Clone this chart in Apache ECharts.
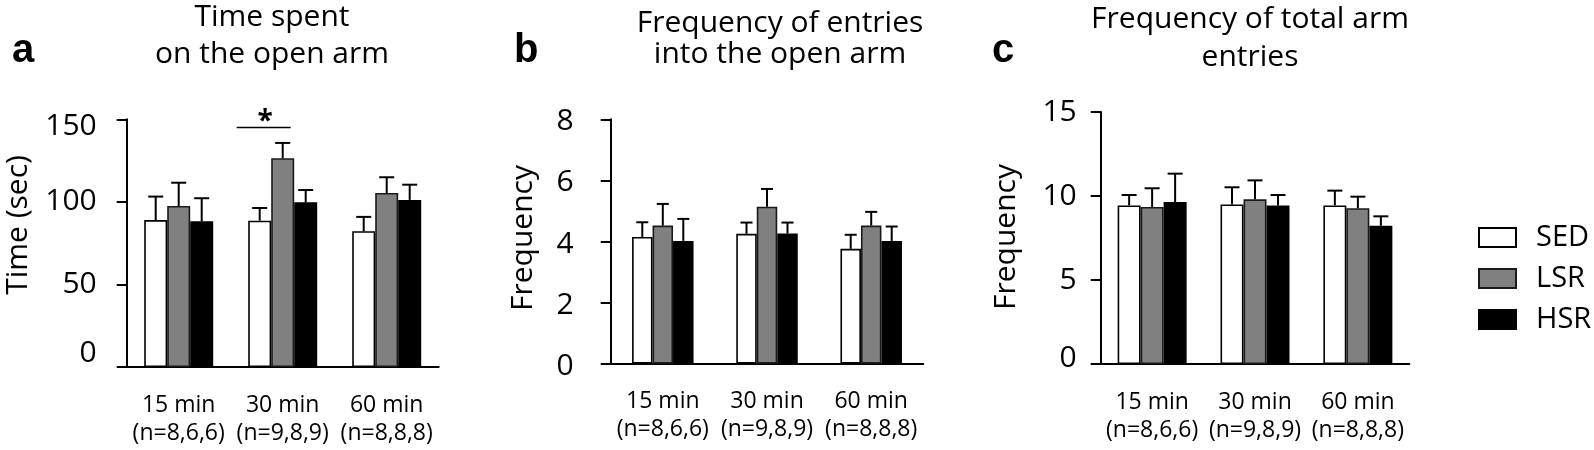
<!DOCTYPE html>
<html>
<head>
<meta charset="utf-8">
<script src="https://cdn.jsdelivr.net/npm/echarts@6/dist/echarts.min.js"></script>
<style>
html,body{margin:0;padding:0;background:#fff;}
#chart{width:1594px;height:450px;}
</style>
</head>
<body>
<div id="chart"></div>
<script>
// ---------- data ----------
const categories = ['15 min', '30 min', '60 min'];
const nLabels = ['(n=8,6,6)', '(n=9,8,9)', '(n=8,8,8)'];
const groups = ['SED', 'LSR', 'HSR'];

// a: Time spent on the open arm (sec)
const timeSED = [89.0, 88.6, 82.2];
const timeSEDsem = [14.2, 7.7, 8.7];
const timeLSR = [97.5, 126.4, 105.4];
const timeLSRsem = [14.1, 9.3, 9.5];
const timeHSR = [88.2, 99.7, 101.2];
const timeHSRsem = [14.0, 7.5, 9.2];
const sigA = [[1, 145]]; // * between SED and LSR at 30 min

// b: Frequency of entries into the open arm
const openSED = [4.15, 4.25, 3.76];
const openSEDsem = [0.48, 0.37, 0.46];
const openLSR = [4.52, 5.14, 4.52];
const openLSRsem = [0.71, 0.58, 0.45];
const openHSR = [4.02, 4.26, 4.02];
const openHSRsem = [0.72, 0.36, 0.47];

// c: Frequency of total arm entries
const totalSED = [9.44, 9.50, 9.44];
const totalSEDsem = [0.62, 1.02, 0.88];
const totalLSR = [9.35, 9.80, 9.27];
const totalLSRsem = [1.11, 1.13, 0.69];
const totalHSR = [9.64, 9.44, 8.23];
const totalHSRsem = [1.69, 0.62, 0.56];

const titles = [
  ['Time spent', 'on the open arm'],
  ['Frequency of entries', 'into the open arm'],
  ['Frequency of total arm', 'entries']
];
const panelLetters = ['a', 'b', 'c'];
const yNames = ['Time (sec)', 'Frequency', 'Frequency'];

// ---------- styling ----------
const FONT = '"Open Sans", "Noto Sans", sans-serif';
const fills = ['#ffffff', '#808080', '#000000'];
const borders = ['#000000', '#1a1a1a', '#000000'];

const grids = [
  {left: 126.7, top: 119.3, width: 312, height: 247.7},
  {left: 610.7, top: 119.3, width: 312.6, height: 244.4},
  {left: 1100.7, top: 112, width: 308.6, height: 252}
];
const barW = [23, 20.5, 23];
const capHalf = [7.5, 6, 7.5];
const yMax = [150, 8, 15];
const yInt = [50, 2, 5];
const yLabelMargin = [30, 37, 24];

const panelData = [
  [[timeSED, timeSEDsem], [timeLSR, timeLSRsem], [timeHSR, timeHSRsem]],
  [[openSED, openSEDsem], [openLSR, openLSRsem], [openHSR, openHSRsem]],
  [[totalSED, totalSEDsem], [totalLSR, totalLSRsem], [totalHSR, totalHSRsem]]
];

function yFormatter(p) {
  return function (v) {
    if (p === 0 && v === 0) return '{lo|0}';
    if (p === 0 && v === 150) return '{hi|150}';
    if (p === 2 && v === 0) return '{lo2|0}';
    if (p === 1) return '{dn|' + v + '}';
    return '{n|' + v + '}';
  };
}
const richBase = {fontSize: 30, fontFamily: FONT, color: '#000'};
const yRich = {
  n: Object.assign({}, richBase),
  lo: Object.assign({padding: [0, 0, 28, 0]}, richBase),
  hi: Object.assign({padding: [15, 0, 0, 0]}, richBase),
  lo2: Object.assign({padding: [0, 0, 11, 0]}, richBase),
  dn: Object.assign({padding: [5, 0, 0, 0]}, richBase)
};

const xAxes = [], yAxes = [], series = [];
for (let p = 0; p < 3; p++) {
  xAxes.push({
    type: 'category', gridIndex: p,
    data: categories.map((c, i) => c + '\n' + nLabels[i]),
    axisLine: {lineStyle: {color: '#000', width: 2}},
    axisTick: {length: 8, lineStyle: {color: '#000', width: 2}},
    axisLabel: {color: '#000', fontSize: 23, fontFamily: FONT, lineHeight: 28, margin: 24, interval: 0}
  });
  yAxes.push({
    type: 'value', gridIndex: p, min: 0, max: yMax[p], interval: yInt[p],
    axisLine: {show: true, lineStyle: {color: '#000', width: 2}},
    axisTick: {show: true, length: 10, lineStyle: {color: '#000', width: 2}},
    splitLine: {show: false},
    axisLabel: {color: '#000', fontSize: 30, fontFamily: FONT, margin: yLabelMargin[p],
      formatter: yFormatter(p), rich: yRich}
  });
  for (let k = 0; k < 3; k++) {
    const [mean, sem] = panelData[p][k];
    series.push({
      type: 'bar', name: groups[k], xAxisIndex: p, yAxisIndex: p,
      data: mean, barWidth: barW[p], barGap: '0%',
      itemStyle: {color: fills[k], borderColor: borders[k], borderWidth: 1.6},
      emphasis: {disabled: true}, z: 2
    });
  }
  for (let k = 0; k < 3; k++) {
    const [mean, sem] = panelData[p][k];
    const bw = barW[p], ch = capHalf[p];
    series.push({
      type: 'custom', name: 'err' + p + k, xAxisIndex: p, yAxisIndex: p, z: 3,
      data: mean.map((m, i) => [i, m, sem[i]]),
      encode: {x: 0, y: 1},
      renderItem: function (params, api) {
        const ci = api.value(0), m = api.value(1), s = api.value(2);
        const p0 = api.coord([ci, m]);
        const p1 = api.coord([ci, m + s]);
        const x = p0[0] + (k - 1) * bw;
        return {type: 'group', children: [
          {type: 'line', shape: {x1: x, y1: p0[1], x2: x, y2: p1[1]}, style: {stroke: '#000', lineWidth: 2}},
          {type: 'line', shape: {x1: x - ch, y1: p1[1], x2: x + ch, y2: p1[1]}, style: {stroke: '#000', lineWidth: 2}}
        ]};
      }
    });
  }
}
// significance annotation in panel a
series.push({
  type: 'custom', name: 'sig', xAxisIndex: 0, yAxisIndex: 0, z: 4,
  data: sigA, encode: {x: 0, y: 1},
  renderItem: function (params, api) {
    const c = api.coord([api.value(0), api.value(1)]);
    return {type: 'group', children: [
      {type: 'line', shape: {x1: c[0] - 46, y1: c[1], x2: c[0] + 8, y2: c[1]}, style: {stroke: '#000', lineWidth: 1.5}},
      {type: 'text', x: c[0] - 17.5, y: c[1] - 6, style: {text: '*', font: 'bold 28px ' + FONT, fill: '#000', align: 'center', verticalAlign: 'middle'}}
    ]};
  }
});

// titles, letters, axis names as text
const graphic = [];
const titleX = [272, 780, 1250];
const titleY = [[17, 54.5], [23.5, 54.5], [19.5, 57]];
for (let p = 0; p < 3; p++) {
  for (let l = 0; l < titles[p].length; l++) {
    graphic.push({type: 'text', x: titleX[p], y: titleY[p][l],
      style: {text: titles[p][l], font: '30px ' + FONT, fill: '#000', align: 'center', verticalAlign: 'middle'}});
  }
}
const letterX = [12, 514, 992];
for (let p = 0; p < 3; p++) {
  graphic.push({type: 'text', x: letterX[p], y: 50.6,
    style: {text: panelLetters[p], font: 'bold 40px "Liberation Sans", Arial, sans-serif', fill: '#000', align: 'left', verticalAlign: 'middle'}});
}
const yNameX = [18.5, 523, 1006];
const yNameY = [225, 238, 237];
for (let p = 0; p < 3; p++) {
  graphic.push({type: 'text', x: yNameX[p], y: yNameY[p], rotation: Math.PI / 2,
    style: {text: yNames[p], font: '30px ' + FONT, fill: '#000', align: 'center', verticalAlign: 'middle'}});
}

const chart = echarts.init(document.getElementById('chart'), null, {renderer: 'canvas'});
chart.setOption({
  animation: false,
  backgroundColor: '#fff',
  grid: grids,
  xAxis: xAxes,
  yAxis: yAxes,
  series: series,
  legend: {
    data: groups, orient: 'vertical', left: 1473, top: 218,
    itemWidth: 37, itemHeight: 19, itemGap: 12, icon: 'rect',
    selectedMode: false,
    textStyle: {fontSize: 29, fontFamily: FONT, color: '#000', lineHeight: 28, padding: [0, 0, 0, 15]}
  },
  graphic: graphic
});
</script>
</body>
</html>
